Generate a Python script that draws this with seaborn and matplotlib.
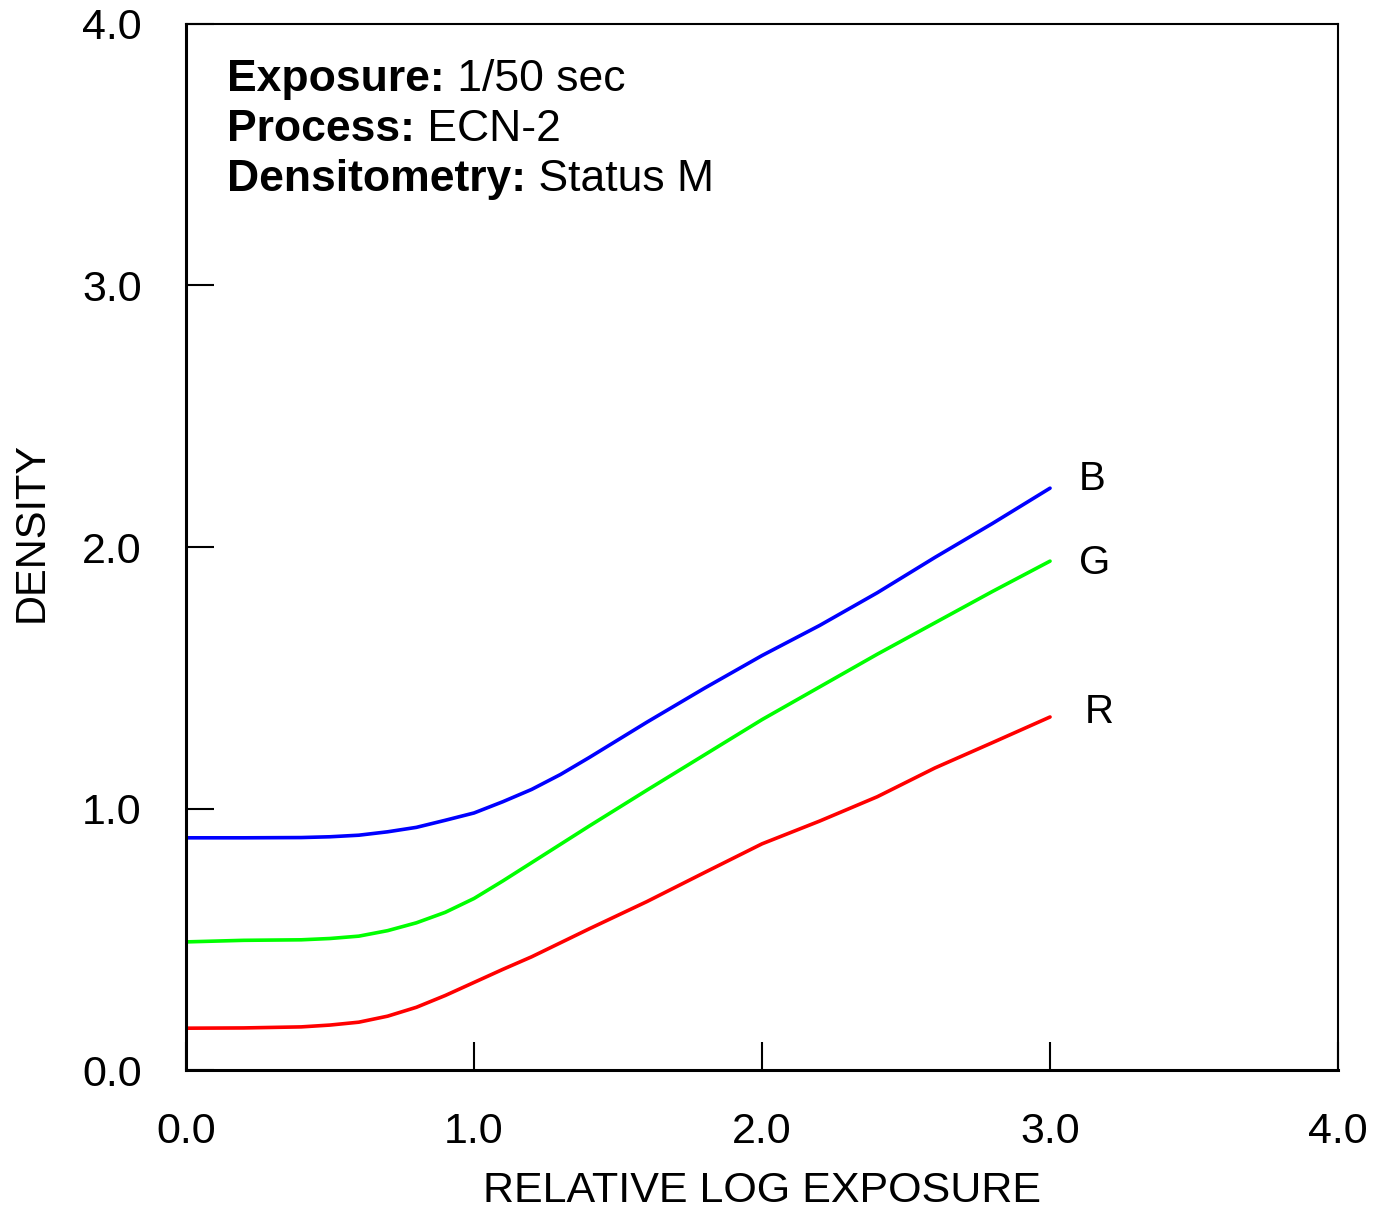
import pandas as pd
import seaborn as sns
import matplotlib.pyplot as plt

# curve readings (relative log exposure vs density)
blue_x = [0, 0.2, 0.4, 0.5, 0.6, 0.7, 0.8, 0.9, 1.0, 1.1, 1.2, 1.3, 1.4, 1.6, 1.8, 2.0, 2.2, 2.4, 2.6, 2.8, 3.0]
blue_y = [0.888, 0.888, 0.889, 0.892, 0.898, 0.911, 0.928, 0.955, 0.983, 1.026, 1.073, 1.13, 1.195, 1.33, 1.46, 1.585, 1.70, 1.825, 1.96, 2.09, 2.225]

green_x = [0, 0.2, 0.4, 0.5, 0.6, 0.7, 0.8, 0.9, 1.0, 1.1, 1.2, 1.3, 1.4, 1.6, 1.8, 2.0, 2.2, 2.4, 2.6, 2.8, 3.0]
green_y = [0.49, 0.496, 0.498, 0.503, 0.512, 0.533, 0.563, 0.603, 0.656, 0.723, 0.793, 0.863, 0.933, 1.07, 1.205, 1.34, 1.465, 1.59, 1.71, 1.83, 1.946]

red_x = [0, 0.2, 0.4, 0.5, 0.6, 0.7, 0.8, 0.9, 1.0, 1.1, 1.2, 1.4, 1.6, 1.8, 2.0, 2.2, 2.4, 2.6, 2.8, 3.0]
red_y = [0.16, 0.161, 0.165, 0.172, 0.183, 0.206, 0.24, 0.285, 0.335, 0.385, 0.433, 0.54, 0.644, 0.755, 0.865, 0.952, 1.045, 1.155, 1.252, 1.35]

labels = ["B", "G", "R"]
colors = ["#0000ff", "#00ff00", "#ff0000"]

df = pd.concat([
    pd.DataFrame({"x": blue_x, "y": blue_y, "layer": "B"}),
    pd.DataFrame({"x": green_x, "y": green_y, "layer": "G"}),
    pd.DataFrame({"x": red_x, "y": red_y, "layer": "R"}),
], ignore_index=True)

sns.set_style("white")
plt.rcParams['font.family'] = ['Liberation Sans', 'DejaVu Sans']
plt.rcParams['text.color'] = 'black'
plt.rcParams['axes.labelcolor'] = 'black'
plt.rcParams['xtick.color'] = 'black'
plt.rcParams['ytick.color'] = 'black'

fig = plt.figure(figsize=(13.84, 12.11), dpi=100)
ax = fig.add_axes([0.1344, 0.1164, 0.8324, 0.8638])

sns.lineplot(data=df, x="x", y="y", hue="layer", palette=dict(zip(labels, colors)),
             linewidth=2.6, legend=False, ax=ax, sort=False)

# curve labels at line ends
label_pos = {"B": (3.1, 2.26), "G": (3.1, 1.94), "R": (3.12, 1.37)}
for lab in labels:
    ax.text(*label_pos[lab], lab, fontsize=29, ha="left", va="center")

ax.set_xlim(0, 4)
ax.set_ylim(0, 4)
ticks = [0, 1, 2, 3, 4]
ax.set_xticks(ticks)
ax.set_yticks(ticks)
ax.set_xticklabels(["0.0", "1.0", "2.0", "3.0", "4.0"])
ax.set_yticklabels(["0.0", "1.0", "2.0", "3.0", "4.0"])
ax.tick_params(direction="in", length=20, width=1.5,
               labelsize=31, pad=30, left=True, bottom=True)
ax.tick_params(axis="y", pad=32)

for sp in ax.spines.values():
    sp.set_color("black")
    sp.set_linewidth(1.5)
ax.spines["left"].set_linewidth(2.2)
ax.spines["bottom"].set_linewidth(2.2)

ax.set_xlabel("RELATIVE LOG EXPOSURE", fontsize=31, labelpad=14)
ax.set_ylabel("DENSITY", fontsize=30)
ax.yaxis.set_label_coords(-0.117, 0.514)

# header annotation
notes = [("Exposure:", " 1/50 sec"), ("Process:", " ECN-2"), ("Densitometry:", " Status M")]
y0 = 0.936
for i, (bold, rest) in enumerate(notes):
    t = ax.text(0.036, y0 - i * 0.048, bold, transform=ax.transAxes,
                fontsize=32, fontweight="bold", va="baseline")
    ax.annotate(rest, xycoords=t, xy=(1, 0), va="bottom", fontsize=32)

plt.savefig("out.png", dpi=100)
